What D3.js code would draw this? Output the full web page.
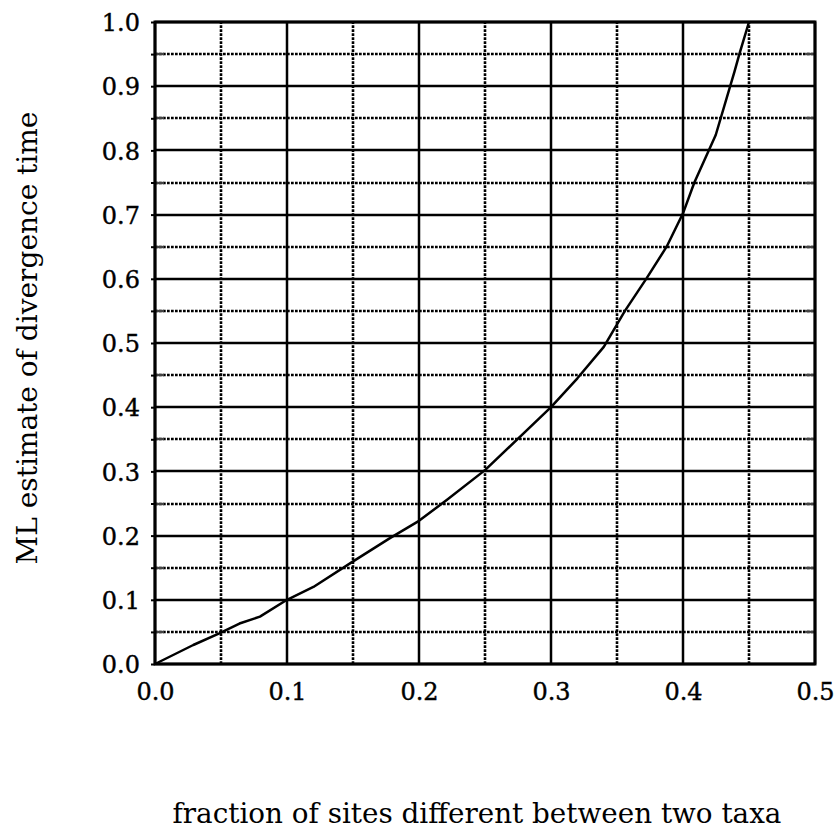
<!DOCTYPE html>
<html>
<head>
<meta charset="utf-8">
<script src="https://cdn.jsdelivr.net/npm/d3@7"></script>
<style>
  html, body { margin: 0; padding: 0; background: #fff; }
  svg { display: block; }
</style>
</head>
<body>
<svg id="chart" width="835" height="830"></svg>
<script>
// fraction of sites different (x) and ML divergence time estimate (y)
const fractionDiff = [0, 0.029, 0.0487, 0.064, 0.0795, 0.1, 0.12, 0.1495, 0.178, 0.2, 0.221, 0.25, 0.3, 0.32, 0.34, 0.356, 0.3725, 0.3876, 0.4, 0.4086, 0.4248, 0.439, 0.4427, 0.45];
const mlEstimate   = [0, 0.0296, 0.0478, 0.063, 0.0737, 0.1, 0.12, 0.159, 0.196, 0.223, 0.2555, 0.302, 0.4, 0.445, 0.494, 0.55, 0.601, 0.65, 0.702, 0.75, 0.824, 0.9226, 0.95, 1.0];
const xMajorTicks = [0, 0.1, 0.2, 0.3, 0.4, 0.5];
const xMinorTicks = [0.05, 0.15, 0.25, 0.35, 0.45];
const yMajorTicks = [0, 0.1, 0.2, 0.3, 0.4, 0.5, 0.6, 0.7, 0.8, 0.9, 1.0];
const yMinorTicks = [0.05, 0.15, 0.25, 0.35, 0.45, 0.55, 0.65, 0.75, 0.85, 0.95];
const xLabel = "fraction of sites different between two taxa";
const yLabel = "ML estimate of divergence time";

const svg = d3.select("#chart");
const x = d3.scaleLinear().domain([0, 0.5]).range([155, 815]);
const y = d3.scaleLinear().domain([0, 1]).range([664, 22]);
const fmt = d3.format(".1f");
const rx = d => Math.round(x(d));
const ry = d => Math.round(y(d));

// minor grid (dotted)
const g = svg.append("g");
g.selectAll(".vminor").data(xMinorTicks).join("line")
  .attr("x1", rx).attr("x2", rx)
  .attr("y1", y(0)).attr("y2", y(1))
  .attr("stroke", "#000").attr("stroke-width", 2.6)
  .attr("stroke-dasharray", "2.7,1.3");
g.selectAll(".hminor").data(yMinorTicks).join("line")
  .attr("x1", x(0)).attr("x2", x(0.5))
  .attr("y1", ry).attr("y2", ry)
  .attr("stroke", "#000").attr("stroke-width", 2.6)
  .attr("stroke-dasharray", "2.7,1.3");

// small solid stubs at minor y on left/right edges
g.selectAll(".stubL").data(yMinorTicks).join("line")
  .attr("x1", x(0)).attr("x2", x(0) + 9)
  .attr("y1", ry).attr("y2", ry)
  .attr("stroke", "#444").attr("stroke-width", 2.4);
g.selectAll(".stubR").data(yMinorTicks).join("line")
  .attr("x1", x(0.5) - 9).attr("x2", x(0.5))
  .attr("y1", ry).attr("y2", ry)
  .attr("stroke", "#444").attr("stroke-width", 2.4);

// major grid (solid)
g.selectAll(".vmajor").data(xMajorTicks).join("line")
  .attr("x1", rx).attr("x2", rx)
  .attr("y1", y(0)).attr("y2", y(1))
  .attr("stroke", "#000").attr("stroke-width", 2.5);
g.selectAll(".hmajor").data(yMajorTicks).join("line")
  .attr("x1", x(0)).attr("x2", x(0.5))
  .attr("y1", ry).attr("y2", ry)
  .attr("stroke", "#000").attr("stroke-width", 2.5);

// frame
svg.append("rect")
  .attr("x", x(0)).attr("y", y(1))
  .attr("width", x(0.5) - x(0)).attr("height", y(0) - y(1))
  .attr("fill", "none").attr("stroke", "#000").attr("stroke-width", 3);

// axes using d3 axis generators
const xAxis = d3.axisBottom(x).tickValues(xMajorTicks).tickFormat(fmt).tickSize(0).tickPadding(0);
const yAxis = d3.axisLeft(y).tickValues(yMajorTicks.concat(yMinorTicks)).tickFormat(d => yMajorTicks.includes(d) ? fmt(d) : "").tickSize(4).tickPadding(12);

const gx = svg.append("g").attr("transform", `translate(0,${y(0)})`).call(xAxis);
gx.select(".domain").remove();
gx.selectAll("text")
  .attr("y", 36).attr("dy", 0)
  .attr("font-family", "'DejaVu Serif', serif").attr("font-size", 24)
  .attr("stroke", "#000").attr("stroke-width", 0.4)
  .attr("fill", "#000");

const gy = svg.append("g").attr("transform", `translate(${x(0)},0)`).call(yAxis);
gy.select(".domain").remove();
gy.selectAll("line").attr("stroke", "#000").attr("stroke-width", 2);
gy.selectAll("text")
  .attr("x", -15).attr("dy", "0.36em")
  .attr("font-family", "'DejaVu Serif', serif").attr("font-size", 24)
  .attr("stroke", "#000").attr("stroke-width", 0.4)
  .attr("fill", "#000");

// curve
const line = d3.line().x((d, i) => x(fractionDiff[i])).y(d => y(d));
svg.append("path")
  .datum(mlEstimate)
  .attr("d", line)
  .attr("fill", "none").attr("stroke", "#000").attr("stroke-width", 2.5)
  .attr("stroke-linejoin", "round");

// axis titles, sized to fit measured extents
function fitText(t, target) {
  const len = t.node().getComputedTextLength();
  const fs = parseFloat(t.attr("font-size"));
  t.attr("font-size", fs * target / len);
}
const xt = svg.append("text")
  .attr("x", 477).attr("y", 823)
  .attr("text-anchor", "middle")
  .attr("font-family", "'DejaVu Serif', serif").attr("font-size", 26)
  .attr("fill", "#000").text(xLabel);
fitText(xt, 609);

const yt = svg.append("text")
  .attr("transform", "translate(37,338) rotate(-90)")
  .attr("text-anchor", "middle")
  .attr("font-family", "'DejaVu Serif', serif").attr("font-size", 26)
  .attr("fill", "#000").text(yLabel);
fitText(yt, 453);
</script>
</body>
</html>
